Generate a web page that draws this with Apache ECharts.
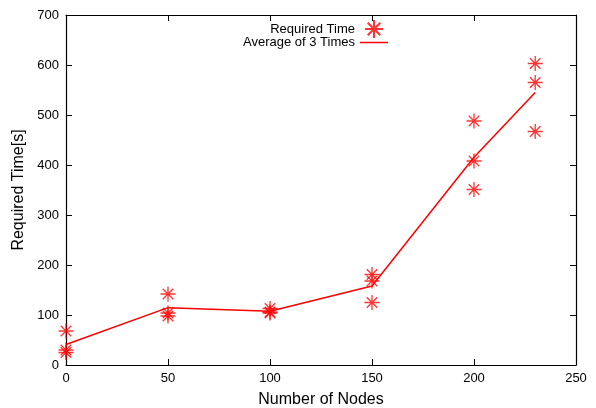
<!DOCTYPE html>
<html>
<head>
<meta charset="utf-8">
<script src="https://cdn.jsdelivr.net/npm/echarts@6/dist/echarts.min.js"></script>
<style>
  html, body { margin: 0; padding: 0; background: #fff; }
  #mainPlot { width: 596px; height: 408px; }
</style>
</head>
<body>
<div id="mainPlot"></div>
<script>
// node counts and the three measured runs at each
const nodes = [0, 50, 100, 150, 200, 230];
const run1 = [68, 142, 113, 181, 488, 603];
const run2 = [25, 104, 106, 168, 408, 565];
const run3 = [30, 98, 104, 125, 351, 467];
const xTicks = [0, 50, 100, 150, 200, 250];
const yTicks = [0, 100, 200, 300, 400, 500, 600, 700];

const starPath = "path://M0,-10L0,10M-10,0L10,0M-7,-7L7,7M-7,7L7,-7";
const font = "Liberation Sans";

const scatterData = [];
nodes.forEach((n, i) => {
  scatterData.push([n, run1[i]], [n, run2[i]], [n, run3[i]]);
});
const avgData = nodes.map((n, i) => [n, (run1[i] + run2[i] + run3[i]) / 3]);

const chart = echarts.init(document.getElementById("mainPlot"));

const tickStyle = { show: true, inside: true, length: 6, lineStyle: { color: "#000", width: 1 } };
const lineStyle = { show: true, onZero: false, lineStyle: { color: "#000", width: 1.2 } };

const option = {
  animation: false,
  textStyle: { fontFamily: font },
  grid: { left: 66, right: 20, top: 15, bottom: 43, outerBoundsMode: "none", containLabel: false },
  legend: [
    {
      data: ["Required Time"],
      right: 207, top: 14,
      align: "right",
      itemWidth: 28, itemHeight: 18, itemGap: 4,
      textStyle: { fontFamily: font, fontSize: 13, color: "#000" }
    },
    {
      data: [{ name: "Average of 3 Times", icon: "rect" }],
      right: 203, top: 31,
      align: "right",
      itemWidth: 28, itemHeight: 1.5, itemGap: 4,
      textStyle: { fontFamily: font, fontSize: 13, color: "#000" }
    }
  ],
  xAxis: [
    {
      type: "value", min: xTicks[0], max: xTicks[xTicks.length - 1], interval: 50,
      name: "Number of Nodes", nameLocation: "middle", nameGap: 27,
      nameTextStyle: { fontFamily: font, fontSize: 16, color: "#000" },
      axisLine: lineStyle, axisTick: tickStyle,
      axisLabel: { fontFamily: font, fontSize: 13, color: "#000", margin: 7 },
      splitLine: { show: false }
    },
    {
      type: "value", position: "top", min: 0, max: 250, interval: 50,
      axisLine: lineStyle, axisTick: tickStyle,
      axisLabel: { show: false }, splitLine: { show: false }
    }
  ],
  yAxis: [
    {
      type: "value", min: yTicks[0], max: yTicks[yTicks.length - 1], interval: 100,
      name: "Required Time[s]", nameLocation: "middle", nameGap: 33,
      nameTextStyle: { fontFamily: font, fontSize: 16, color: "#000" },
      axisLine: lineStyle, axisTick: tickStyle,
      axisLabel: { fontFamily: font, fontSize: 13, color: "#000", margin: 7 },
      splitLine: { show: false }
    },
    {
      type: "value", position: "right", min: 0, max: 700, interval: 100,
      axisLine: lineStyle, axisTick: tickStyle,
      axisLabel: { show: false }, splitLine: { show: false }
    }
  ],
  series: [
    {
      name: "Required Time",
      type: "scatter",
      data: scatterData,
      symbol: starPath,
      symbolSize: 15,
      itemStyle: { color: "#ff0000", borderColor: "#ff0000", borderWidth: 1.3 }
    },
    {
      name: "Average of 3 Times",
      type: "line",
      data: avgData,
      symbol: "none",
      lineStyle: { color: "#ff0000", width: 1.5 },
      itemStyle: { color: "#ff0000" }
    }
  ]
};

chart.setOption(option);
window.addEventListener("resize", () => {
  chart.resize();
});
</script>
</body>
</html>
